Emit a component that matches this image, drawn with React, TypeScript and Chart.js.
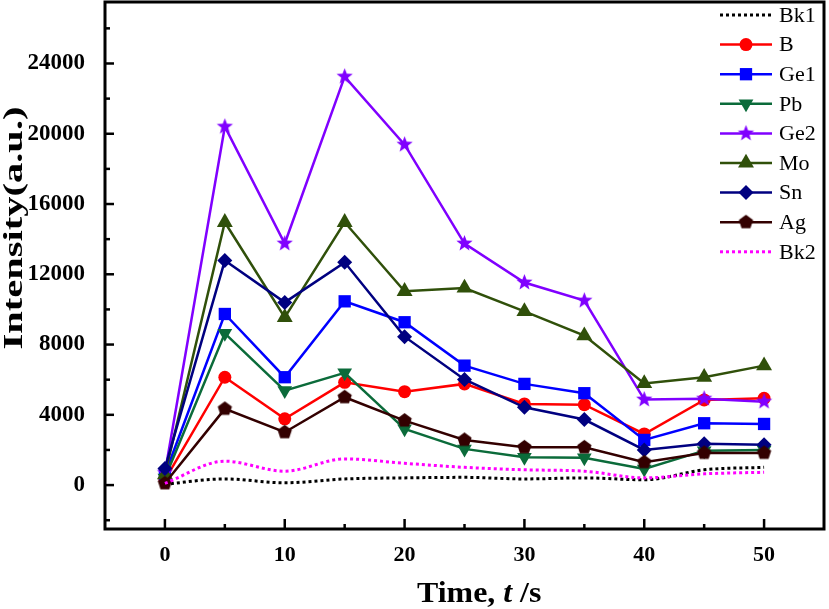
import React, { useEffect, useRef } from 'react';
import { Chart, registerables } from 'chart.js';
import { drawPoint } from 'chart.js/helpers';

Chart.register(...registerables);

// ---- data ----
const TIME = [0, 5, 10, 15, 20, 25, 30, 35, 40, 45, 50];
const BK1 = [50, 350, 130, 350, 410, 440, 350, 410, 300, 870, 1010];
const B = [300, 6140, 3770, 5850, 5320, 5760, 4620, 4580, 2910, 4850, 4940];
const GE1 = [600, 9740, 6140, 10460, 9270, 6800, 5760, 5230, 2570, 3520, 3480];
const PB = [400, 8640, 5380, 6390, 3200, 2060, 1580, 1550, 920, 1960, 2000];
const GE2 = [700, 20400, 13750, 23250, 19380, 13750, 11530, 10500, 4870, 4920, 4750];
const MO = [600, 14960, 9550, 14960, 11030, 11220, 9890, 8510, 5790, 6140, 6800];
const SN = [950, 12780, 10400, 12680, 8450, 6010, 4430, 3730, 2000, 2350, 2290];
const AG = [100, 4340, 3010, 5000, 3670, 2570, 2150, 2150, 1300, 1830, 1830];
const BK2 = [100, 1360, 790, 1490, 1240, 1010, 870, 790, 410, 640, 730];

const SERIES_NAMES = ['Bk1', 'B', 'Ge1', 'Pb', 'Ge2', 'Mo', 'Sn', 'Ag', 'Bk2'];
const SERIES_VALUES = [BK1, B, GE1, PB, GE2, MO, SN, AG, BK2];

const X_TICKS = [0, 5, 10, 15, 20, 25, 30, 35, 40, 45, 50];
const X_LABELS = [0, 10, 20, 30, 40, 50];
const Y_TICKS = [-2000, 0, 2000, 4000, 6000, 8000, 10000, 12000, 14000, 16000, 18000, 20000, 22000, 24000, 26000];
const Y_LABELS = [0, 4000, 8000, 12000, 16000, 20000, 24000];

const X_TITLE_PARTS = [
  { text: 'Time, ', italic: false },
  { text: 't', italic: true },
  { text: ' /s', italic: false },
];
const Y_TITLE = 'Intensity(a.u.)';

const SERIF = "'Liberation Serif', 'Times New Roman', serif";

function makePolyCanvas(color: string, n: number, R: number, r?: number) {
  const size = Math.ceil(2 * R + 2);
  const c = document.createElement('canvas');
  c.width = size;
  c.height = size;
  const g = c.getContext('2d')!;
  g.fillStyle = color;
  g.beginPath();
  const steps = r ? n * 2 : n;
  for (let i = 0; i < steps; i++) {
    const ang = -Math.PI / 2 + (i * 2 * Math.PI) / steps;
    const rad = r ? (i % 2 === 0 ? R : r) : R;
    const px = size / 2 + rad * Math.cos(ang);
    const py = size / 2 + rad * Math.sin(ang);
    if (i === 0) g.moveTo(px, py);
    else g.lineTo(px, py);
  }
  g.closePath();
  g.fill();
  return c;
}

export default function App() {
  const ref = useRef<HTMLCanvasElement | null>(null);

  useEffect(() => {
    const canvas = ref.current;
    if (!canvas) return;

    const star = makePolyCanvas('#8000ff', 5, 8.5, 3.6);
    const pentagon = makePolyCanvas('#330000', 5, 7.5);

    const styles: any[] = [
      { color: '#000000', dash: [3, 3], point: null, radius: 0, smooth: true },
      { color: '#ff0000', dash: [], point: 'circle', radius: 6.5 },
      { color: '#0000ff', dash: [], point: 'rect', radius: 8.7 },
      { color: '#0b6b3a', dash: [], point: 'triangle', radius: 8.5, rotation: 180 },
      { color: '#8000ff', dash: [], point: star, radius: 8 },
      { color: '#30500a', dash: [], point: 'triangle', radius: 9.2 },
      { color: '#000080', dash: [], point: 'rectRot', radius: 7.5 },
      { color: '#330000', dash: [], point: pentagon, radius: 7 },
      { color: '#ff00ff', dash: [3, 3], point: null, radius: 0, smooth: true },
    ];

    const datasets = SERIES_NAMES.map((name, i) => {
      const s = styles[i];
      return {
        label: name,
        data: TIME.map((t, k) => ({ x: t, y: SERIES_VALUES[i][k] })),
        borderColor: s.color,
        backgroundColor: s.color,
        borderWidth: s.point ? 2.5 : 3,
        borderDash: s.dash,
        pointStyle: s.point || 'circle',
        pointRadius: s.radius,
        pointRotation: s.rotation || 0,
        pointBackgroundColor: s.color,
        pointBorderColor: s.color,
        pointBorderWidth: 0,
        tension: s.smooth ? 0.4 : 0,
        cubicInterpolationMode: s.smooth ? 'monotone' : 'default',
        order: SERIES_NAMES.length - i,
      };
    });

    const framePlugin = {
      id: 'frame',
      afterDatasetsDraw(chart: any) {
        const { ctx, chartArea: a, scales } = chart;
        ctx.save();
        ctx.strokeStyle = '#000';
        ctx.lineWidth = 2.5;
        scales.y.ticks.forEach((t: any) => {
          const py = scales.y.getPixelForValue(t.value);
          const len = Y_LABELS.includes(t.value) ? 9 : 5;
          ctx.beginPath();
          ctx.moveTo(a.left, py);
          ctx.lineTo(a.left + len, py);
          ctx.stroke();
        });
        scales.x.ticks.forEach((t: any) => {
          const px = scales.x.getPixelForValue(t.value);
          const len = X_LABELS.includes(t.value) ? 10 : 5;
          ctx.beginPath();
          ctx.moveTo(px, a.bottom);
          ctx.lineTo(px, a.bottom - len);
          ctx.stroke();
        });
        ctx.lineWidth = 3;
        ctx.strokeRect(a.left, a.top, a.right - a.left, a.bottom - a.top);
        ctx.restore();
      },
    };

    const legendPlugin = {
      id: 'customLegend',
      afterDraw(chart: any) {
        const { ctx } = chart;
        ctx.save();
        const x0 = 720, x1 = 772, xm = 746, xt = 779;
        SERIES_NAMES.forEach((name, i) => {
          const s = styles[i];
          const y = 15 + i * 29.6;
          ctx.strokeStyle = s.color;
          ctx.fillStyle = s.color;
          ctx.lineWidth = s.point ? 2.5 : 3;
          ctx.setLineDash(s.dash);
          ctx.beginPath();
          ctx.moveTo(x0, y);
          ctx.lineTo(x1, y);
          ctx.stroke();
          ctx.setLineDash([]);
          if (s.point) {
            drawPoint(ctx, { pointStyle: s.point, radius: s.radius, rotation: s.rotation || 0, borderWidth: 0 }, xm, y);
          }
          ctx.fillStyle = '#000';
          ctx.font = `22px ${SERIF}`;
          ctx.textAlign = 'left';
          ctx.textBaseline = 'middle';
          ctx.fillText(name, xt, y + 1);
        });
        ctx.restore();
      },
    };

    const titlePlugin = {
      id: 'axisTitles',
      afterDraw(chart: any) {
        const { ctx } = chart;
        ctx.save();
        ctx.fillStyle = '#000';
        // x title (slightly stretched horizontally like the original)
        ctx.save();
        ctx.translate(417, 602);
        ctx.scale(1.1, 1);
        let x = 0;
        ctx.textBaseline = 'alphabetic';
        ctx.textAlign = 'left';
        X_TITLE_PARTS.forEach((p) => {
          ctx.font = `${p.italic ? 'italic ' : ''}bold 29px ${SERIF}`;
          ctx.fillText(p.text, x, 0);
          x += ctx.measureText(p.text).width;
        });
        ctx.restore();
        // y title (stretched along its length)
        ctx.font = `bold 27px ${SERIF}`;
        ctx.translate(22, 228);
        ctx.rotate(-Math.PI / 2);
        ctx.scale(1.5, 1);
        ctx.textAlign = 'center';
        ctx.textBaseline = 'alphabetic';
        ctx.fillText(Y_TITLE, 0, 0);
        ctx.restore();
      },
    };

    const chart = new Chart(canvas, {
      type: 'line',
      data: { datasets },
      options: {
        animation: false,
        responsive: false,
        devicePixelRatio: 1,
        layout: { autoPadding: false, padding: { top: 2, right: 5, left: 0, bottom: 0 } },
        plugins: { legend: { display: false }, tooltip: { enabled: false } },
        scales: {
          x: {
            type: 'linear',
            min: -5,
            max: 55,
            grid: { display: false },
            border: { display: false },
            afterBuildTicks: (scale: any) => {
              scale.ticks = X_TICKS.map((v) => ({ value: v }));
            },
            afterFit: (scale: any) => {
              scale.height = 80;
              scale.paddingLeft = 0;
              scale.paddingRight = 0;
            },
            ticks: {
              autoSkip: false,
              maxRotation: 0,
              padding: 5,
              color: '#000',
              font: { family: SERIF, size: 22, weight: 'bold' },
              callback: (v: any) => (X_LABELS.includes(v) ? String(v) : ''),
            },
          },
          y: {
            type: 'linear',
            min: -2500,
            max: 27500,
            grid: { display: false },
            border: { display: false },
            afterBuildTicks: (scale: any) => {
              scale.ticks = Y_TICKS.map((v) => ({ value: v }));
            },
            afterFit: (scale: any) => {
              scale.width = 105;
              scale.paddingTop = 0;
              scale.paddingBottom = 0;
            },
            ticks: {
              autoSkip: false,
              padding: 12,
              color: '#000',
              font: { family: SERIF, size: 23, weight: 'bold' },
              callback: (v: any) => (Y_LABELS.includes(v) ? String(v) : ''),
            },
          },
        },
      } as any,
      plugins: [framePlugin, legendPlugin, titlePlugin],
    });

    return () => chart.destroy();
  }, []);

  return (
    <div style={{ position: 'absolute', left: 0, top: 0, width: 829, height: 609, background: '#fff' }}>
      <canvas ref={ref} width={829} height={609} style={{ display: 'block' }} />
    </div>
  );
}
